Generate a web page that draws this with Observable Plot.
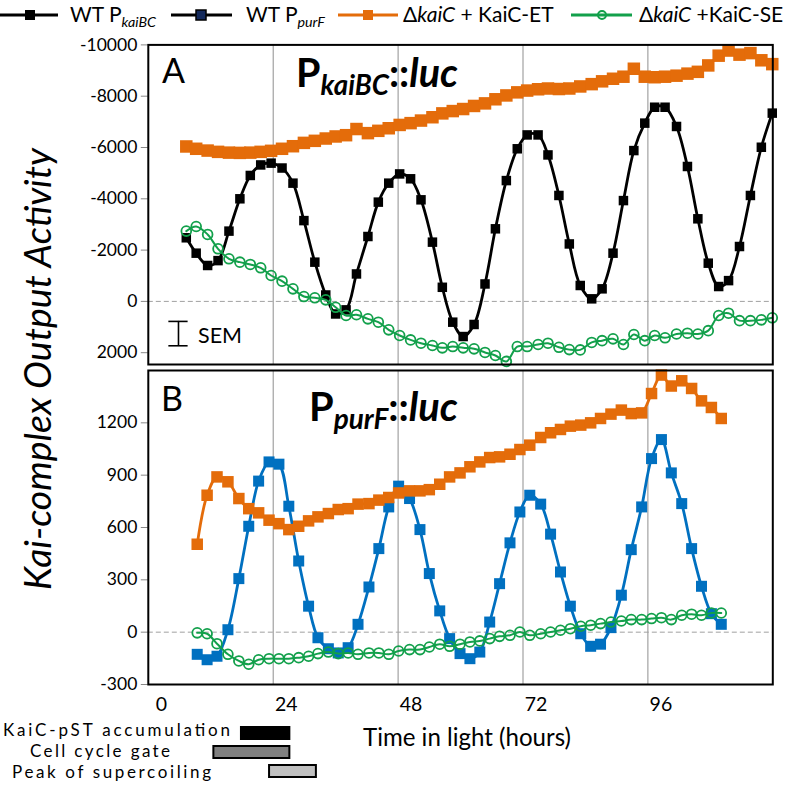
<!DOCTYPE html>
<html><head><meta charset="utf-8">
<script src="https://cdn.jsdelivr.net/npm/d3@7"></script>
<script src="https://cdn.jsdelivr.net/npm/@observablehq/plot@0.6"></script>
<style>
body{margin:0;background:#fff;font-family:Lato,sans-serif;}
#wrap{position:relative;width:789px;height:786px;overflow:hidden;background:#fff;}
#wrap > figure, #wrap > svg{position:absolute;margin:0;}
</style></head><body><div id="wrap"></div>
<script>
// ---------- data (hours, activity) ----------
const tA = [7.3,9.2,11.4,13.4,15.5,17.6,19.6,21.6,23.6,25.7,27.8,29.9,32.0,34.1,36.0,38.0,40.0,42.2,44.2,46.2,48.3,50.4,52.4,54.6,56.5,58.5,60.5,62.6,64.7,66.7,68.8,70.9,72.8,74.9,76.8,78.9,80.9,83.0,85.2,87.2,89.3,91.3,93.3,95.4,97.3,99.3,101.5,103.6,105.6,107.6,109.6,111.5,113.6,115.7,117.8,119.9];
const wtKaiBC = [-2480,-1880,-1400,-1590,-2740,-4000,-4910,-5320,-5390,-5200,-4610,-3150,-1530,-250,490,330,-1070,-2530,-3870,-4610,-4970,-4780,-3960,-2310,-550,810,1370,900,-680,-2830,-4710,-5950,-6490,-6490,-5710,-4130,-2240,-620,-100,-490,-1880,-3930,-5880,-6950,-7570,-7570,-6820,-5260,-3220,-1490,-580,-810,-2140,-4130,-6010,-7340];
const etKaiBC = [-6040,-5950,-5880,-5830,-5800,-5790,-5800,-5830,-5870,-5950,-6050,-6180,-6260,-6350,-6430,-6480,-6720,-6560,-6650,-6750,-6880,-6950,-7050,-7180,-7330,-7420,-7500,-7620,-7720,-7880,-8030,-8150,-8220,-8270,-8300,-8280,-8300,-8380,-8470,-8580,-8680,-8760,-9070,-8760,-8740,-8760,-8800,-8880,-8950,-9200,-9580,-9780,-9620,-9680,-9400,-9250];
const seKaiBC = [-2740,-2920,-2610,-2050,-1660,-1530,-1440,-1310,-1010,-790,-490,-190,-140,-60,230,550,520,680,810,1110,1330,1500,1630,1720,1810,1760,1810,1850,1990,2110,2340,1760,1760,1680,1630,1790,1880,1890,1600,1530,1460,1680,1290,1530,1330,1420,1270,1240,1270,1140,550,460,750,750,720,640];

const tB = [9.4,11.3,13.2,15.3,17.4,19.3,21.2,23.2,25.1,27.0,28.9,30.8,32.6,34.6,36.5,38.4,40.3,42.4,44.3,46.2,48.1,50.2,52.2,54.0,56.0,57.9,59.9,61.8,63.7,65.6,67.5,69.5,71.4,73.3,75.4,77.3,79.2,81.1,83.1,85.0,86.9,88.9,90.9,92.8,94.8,96.7,98.6,100.5,102.5,104.4,106.3,108.2,110.1];
const wtPurF = [-127,-158,-138,14,307,607,866,976,963,722,408,149,-32,-95,-119,-89,45,259,479,718,837,766,588,336,122,-37,-123,-152,-114,58,278,512,689,785,734,562,345,149,-9,-81,-69,26,212,473,718,995,1104,913,737,479,263,106,45];
const etPurF = [504,785,890,862,766,708,684,642,622,588,607,638,661,680,703,708,734,737,757,772,798,810,810,817,848,890,913,948,976,1001,1005,1020,1047,1072,1116,1143,1162,1181,1187,1200,1225,1250,1273,1253,1257,1368,1474,1411,1441,1397,1326,1288,1225];
const sePurF = [-4,-9,-66,-127,-165,-184,-158,-152,-152,-152,-146,-138,-123,-114,-123,-119,-127,-119,-119,-127,-108,-100,-100,-85,-69,-81,-69,-56,-50,-37,-24,-18,1,-18,-9,1,11,20,34,40,49,58,64,72,72,78,83,72,97,103,97,110,110];

const xTicks = [0,24,48,72,96];
const yTicksA = [-10000,-8000,-6000,-4000,-2000,0,2000];
const yTicksB = [-300,0,300,600,900,1200];

const gateLabels = ["KaiC-pST accumulation","Cell cycle gate","Peak of supercoiling"];
const gateStart = [17.9,12.6,23.3];
const gateEnd = [27.2,27.2,32.3];

const semCenter = 5.8, semLow = 780, semHigh = 1730; // SEM bar (hours, activity)

// ---------- styles ----------
const ORANGE = "#E46C0A", GREEN = "#12A04B", BLUE = "#0070C0";
const W = 789, ML = 147.8, MR = 789 - 772.3;
const baseStyle = {fontFamily: "Lato, sans-serif", fontSize: "17px", color: "black", background: "transparent", overflow: "visible"};

const dataA = tA.map((t,i)=>({t, wt: wtKaiBC[i], et: etKaiBC[i], se: seKaiBC[i]}));
const dataB = tB.map((t,i)=>({t, wt: wtPurF[i], et: etPurF[i], se: sePurF[i]}));
const gates = gateLabels.map((label,i)=>({label, start: gateStart[i], end: gateEnd[i], i}));
const gateFill = ["#000000","#808080","#c0c0c0"];

function seriesMarks(data, wtColor, wtSide, etSide) {
  return [
    Plot.line(data, {x:"t", y:"wt", stroke: wtColor, strokeWidth: 2.8, curve: "catmull-rom"}),
    Plot.dot(data, {x:"t", y:"wt", symbol:"square", r: wtSide/1.7725, fill: wtColor, stroke: "none"}),
    Plot.line(data, {x:"t", y:"et", stroke: ORANGE, strokeWidth: 2.8, curve: "catmull-rom"}),
    Plot.dot(data, {x:"t", y:"et", symbol:"square", r: etSide/1.7725, fill: ORANGE, stroke: "none"}),
    Plot.line(data, {x:"t", y:"se", stroke: GREEN, strokeWidth: 2, curve: "catmull-rom"}),
    Plot.dot(data, {x:"t", y:"se", symbol:"circle", r: 4.9, fill: "none", stroke: GREEN, strokeWidth: 1.8})
  ];
}

const plotA = Plot.plot({
  width: W, height: 340, marginTop: 10.4, marginBottom: 10, marginLeft: ML, marginRight: MR,
  style: baseStyle,
  x: {domain: [0,120], axis: null},
  y: {domain: [-10000, 2460], reverse: true},
  marks: [
    Plot.ruleX(xTicks.slice(1), {stroke: "#8f8f8f", strokeWidth: 1}),
    Plot.ruleY([0], {stroke: "#a0a0a0", strokeWidth: 1, strokeDasharray: "5,3"}),
    Plot.axisY({ticks: yTicksA, tickSize: 7, tickPadding: 4, tickFormat: d => String(d), label: null, stroke: "#888", fill: "black", fontSize: 17.5}),
    ...seriesMarks(dataA, "#000000", 9.5, 12.5),
    Plot.ruleX([semCenter], {y1: semLow, y2: semHigh, stroke: "black", strokeWidth: 1.6}),
    Plot.ruleY([semLow, semHigh], {x1: semCenter - 1.85, x2: semCenter + 1.85, stroke: "black", strokeWidth: 1.6}),
    Plot.frame({stroke: "black", strokeWidth: 2})
  ]
});

const plotB = Plot.plot({
  width: W, height: 354, marginTop: 4, marginBottom: 36, marginLeft: ML, marginRight: MR,
  style: baseStyle,
  x: {domain: [0,120]},
  y: {domain: [-300, 1500]},
  marks: [
    Plot.ruleX(xTicks.slice(1), {stroke: "#8f8f8f", strokeWidth: 1}),
    Plot.ruleY([0], {stroke: "#a0a0a0", strokeWidth: 1, strokeDasharray: "5,3"}),
    Plot.axisY({ticks: yTicksB, tickSize: 7, tickPadding: 4, tickFormat: d => String(d), label: null, stroke: "#888", fill: "black", fontSize: 17.5}),
    Plot.axisX({ticks: xTicks, tickSize: 0, tickPadding: 13, dx: 13, fontSize: 19.5, tickFormat: d => String(d), label: null}),
    ...seriesMarks(dataB, BLUE, 11, 11.5),
    Plot.frame({stroke: "black", strokeWidth: 2})
  ]
});

const plotC = Plot.plot({
  width: W, height: 66, marginTop: 0, marginBottom: 0, marginLeft: ML, marginRight: MR,
  style: baseStyle,
  x: {domain: [0,120], axis: null},
  y: {type: "band", domain: gateLabels, range: [6, 57], paddingInner: 0.385, paddingOuter: 0, axis: null},
  color: {type: "identity"},
  marks: [
    Plot.barX(gates, {x1: "start", x2: "end", y: "label", fill: d => gateFill[d.i], stroke: "black", strokeWidth: 2})
  ]
});

const wrap = document.getElementById("wrap");
function place(node, top) { node.style.position = "absolute"; node.style.left = "0px"; node.style.top = top + "px"; wrap.appendChild(node); }
place(plotA, 34);
place(plotB, 366);
place(plotC, 720);

// ---------- text overlay: legend, titles, axis titles ----------
const ov = document.createElementNS("http://www.w3.org/2000/svg", "svg");
ov.setAttribute("width", W); ov.setAttribute("height", 786);
ov.style.cssText = "position:absolute;left:0;top:0;font-family:Lato,sans-serif;pointer-events:none";
ov.innerHTML = `
<g>
  <line x1="0" x2="58" y1="15" y2="15" stroke="#000" stroke-width="3"/>
  <rect x="25" y="10" width="10" height="10" fill="#000"/>
  <line x1="171" x2="232" y1="15" y2="15" stroke="#000" stroke-width="3"/>
  <rect x="196" y="10" width="10" height="10" fill="#13295b" stroke="#000" stroke-width="1.5"/>
  <line x1="338" x2="398" y1="15" y2="15" stroke="${ORANGE}" stroke-width="3"/>
  <rect x="363" y="10" width="10" height="10" fill="${ORANGE}"/>
  <line x1="571" x2="632" y1="15" y2="15" stroke="${GREEN}" stroke-width="3"/>
  <circle cx="602" cy="15" r="4" fill="none" stroke="${GREEN}" stroke-width="2"/>
</g>
<g font-size="21" fill="#000">
  <text x="70" y="22">WT P<tspan font-size="0.68em" font-style="italic" dy="0.35em">kaiBC</tspan></text>
  <text x="246" y="22">WT P<tspan font-size="0.68em" font-style="italic" dy="0.35em">purF</tspan></text>
  <text x="403" y="22">Δ<tspan font-style="italic">kaiC</tspan> + KaiC-ET</text>
  <text x="639" y="22">Δ<tspan font-style="italic">kaiC</tspan> +KaiC-SE</text>
</g>
<text x="162" y="83" font-size="34">A</text>
<text x="161" y="411" font-size="34">B</text>
<text id="tA" x="296" y="87" font-size="30" font-weight="bold">P<tspan font-size="0.7em" font-style="italic" dy="0.3em">kaiBC</tspan><tspan dy="-0.21em">::</tspan><tspan font-style="italic">luc</tspan></text>
<text id="tB" x="309" y="421" font-size="30" font-weight="bold">P<tspan font-size="0.7em" font-style="italic" dy="0.3em">purF</tspan><tspan dy="-0.21em">::</tspan><tspan font-style="italic">luc</tspan></text>
<text id="sem" x="198" y="343" font-size="19">SEM</text>
<text id="xt" x="363" y="746" font-size="21">Time in light (hours)</text>
<text id="yt" transform="translate(51,369) rotate(-90)" text-anchor="middle" font-size="30" font-style="italic">Kai-complex Output Activity</text>
<text x="3" y="736" font-size="17" textLength="227" lengthAdjust="spacing">${gateLabels[0]}</text>
<text x="30" y="757" font-size="17" textLength="140" lengthAdjust="spacing">${gateLabels[1]}</text>
<text x="12" y="778" font-size="17" textLength="199" lengthAdjust="spacing">${gateLabels[2]}</text>
`;
wrap.appendChild(ov);

function fit(id, target) {
  const el = ov.querySelector("#" + id);
  const L = el.getComputedTextLength();
  const fs = parseFloat(el.getAttribute("font-size"));
  if (L > 0) el.setAttribute("font-size", (fs * target / L).toFixed(2));
}
fit("tA", 162); fit("tB", 149); fit("sem", 44); fit("xt", 208); fit("yt", 442);
</script></body></html>
